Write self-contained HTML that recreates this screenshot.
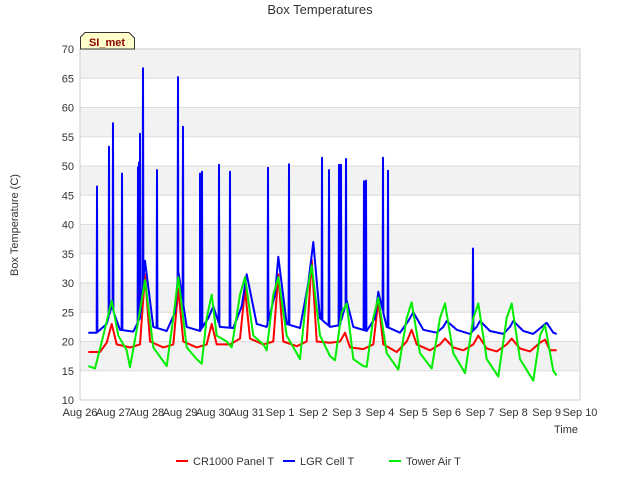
<!DOCTYPE html>
<html><head><meta charset="utf-8"><style>
body{margin:0;background:#fff;font-family:"Liberation Sans",sans-serif}
svg text{font-family:"Liberation Sans",sans-serif}
</style></head><body>
<svg id="chart" width="640" height="480" viewBox="0 0 640 480">
<g id="bands"></g><g id="grid"></g>
<rect x="80" y="49" width="500" height="351" fill="none" stroke="#cccccc"/>
<g id="series"></g><g id="axes"></g>
<text x="320" y="14" text-anchor="middle" font-size="13" fill="#333">Box Temperatures</text>
<text transform="translate(18,225) rotate(-90)" text-anchor="middle" font-size="11" fill="#333">Box Temperature (C)</text>
<text x="578" y="433" text-anchor="end" font-size="11" fill="#333">Time</text>
<g>
<path d="M80.5,49 L80.5,37 L85,32.5 L129,32.5 L134.5,38 L134.5,49 Z" fill="#ffffcc" stroke="#333" stroke-width="1"/>
<text x="107" y="46" text-anchor="middle" font-size="11" font-weight="bold" fill="#8b0000">SI_met</text>
</g>
<g id="legend"></g>
</svg>
<script>
const yTicks=[10,15,20,25,30,35,40,45,50,55,60,65,70];
const xTickLabels=["Aug 26","Aug 27","Aug 28","Aug 29","Aug 30","Aug 31","Sep 1","Sep 2","Sep 3","Sep 4","Sep 5","Sep 6","Sep 7","Sep 8","Sep 9","Sep 10"];
const seriesNames=["CR1000 Panel T","LGR Cell T","Tower Air T"];
const redData=[[0.25,18.2],[0.6,18.2],[0.8,19.8],[0.95,23],[1.1,19.5],[1.5,19],[1.8,19.5],[1.95,31.5],[2.1,20],[2.5,19],[2.8,19.5],[2.95,29],[3.1,20],[3.5,19],[3.8,19.5],[3.95,23],[4.1,19.5],[4.5,19.5],[4.8,20.5],[4.95,29],[5.1,20.5],[5.5,19.5],[5.8,20],[5.95,31.5],[6.1,20],[6.5,19.2],[6.8,20],[6.95,34],[7.1,20],[7.5,19.8],[7.8,20],[7.95,21.5],[8.1,19],[8.5,18.7],[8.8,19.5],[8.95,27],[9.1,19.5],[9.5,18.2],[9.8,20],[9.95,22],[10.1,19.5],[10.5,18.5],[10.8,19.5],[10.95,20.5],[11.2,19],[11.5,18.5],[11.8,19.5],[11.95,21],[12.2,18.8],[12.5,18.3],[12.8,19.5],[12.95,20.5],[13.2,18.8],[13.5,18.3],[13.8,19.8],[13.95,20.3],[14.1,18.5],[14.3,18.5]];
const greenData=[[0.25,15.8],[0.45,15.4],[0.7,21],[0.95,27],[1.15,21],[1.4,18.5],[1.5,15.6],[1.7,22],[1.95,30.5],[2.2,19],[2.45,17],[2.6,15.8],[2.8,24],[2.95,31],[3.2,19],[3.5,17],[3.65,16.2],[3.8,24],[3.95,28],[4.1,21],[4.4,20],[4.55,19],[4.8,28],[4.95,31],[5.2,21],[5.5,19.5],[5.6,18.5],[5.8,28],[5.95,31],[6.2,21],[6.5,18],[6.6,17],[6.8,28],[6.95,33],[7.2,21],[7.5,17.5],[7.65,16.8],[7.85,25],[8,26.5],[8.2,17],[8.5,15.8],[8.6,15.7],[8.8,24],[8.95,27.5],[9.2,18],[9.55,15.2],[9.8,24],[9.95,26.7],[10.2,18],[10.55,15.4],[10.8,24],[10.95,26.5],[11.2,18],[11.55,14.6],[11.8,24],[11.95,26.5],[12.2,17],[12.55,14],[12.8,24],[12.95,26.5],[13.2,17],[13.6,13.3],[13.8,21],[13.95,22.8],[14.2,15],[14.3,14.2]];
const blueData=[[0.25,21.5],[0.5,21.5],[0.8,23],[0.95,26],[1.2,22],[1.6,21.7],[1.8,24],[1.95,33.8],[2.2,22.5],[2.6,21.8],[2.85,25],[2.95,32],[3.2,22.5],[3.6,21.8],[3.85,24],[4.0,26],[4.2,22.5],[4.6,22.3],[4.85,26],[5.0,31.5],[5.3,23],[5.6,22.5],[5.85,28],[5.95,34.5],[6.2,23],[6.6,22.3],[6.85,30],[7.0,37],[7.2,24],[7.5,22.5],[7.8,22.8],[8,27],[8.2,22.5],[8.6,21.8],[8.85,24],[8.95,28.5],[9.2,22.5],[9.6,21.5],[9.85,23.5],[10.0,25],[10.3,22],[10.7,21.5],[10.9,22.5],[11.0,23.5],[11.3,22],[11.7,21.3],[11.9,22.5],[12.0,23.5],[12.3,21.8],[12.7,21.3],[12.9,22.5],[13.0,23.5],[13.3,21.8],[13.6,21.3],[13.85,22.5],[14.0,23.2],[14.2,21.5],[14.3,21.3]];
const blueSpikes=[[0.51,46.5],[0.87,53.3],[0.99,57.3],[1.26,48.7],[1.74,49.8],[1.77,50.6],[1.80,55.5],[1.89,66.7],[2.31,49.3],[2.94,65.2],[3.09,56.7],[3.60,48.7],[3.66,49],[4.17,50.2],[4.50,49],[5.64,49.7],[6.27,50.3],[7.26,51.4],[7.47,49.3],[7.77,50.2],[7.83,50.2],[7.98,51.2],[8.52,47.4],[8.58,47.5],[9.09,51.4],[9.24,49.2],[11.79,35.9]];
const NS="http://www.w3.org/2000/svg";
const X0=80,X1=580,Y0=400,Y1=49;
function xs(t){return X0+(X1-X0)*t/15;}
function ys(v){return Y0-(Y0-Y1)*(v-10)/60;}
function mk(tag,attrs,parent){const e=document.createElementNS(NS,tag);for(const k in attrs)e.setAttribute(k,attrs[k]);parent.appendChild(e);return e;}
const bands=document.getElementById('bands'),grid=document.getElementById('grid'),axes=document.getElementById('axes');
for(let i=0;i<yTicks.length-1;i++){
  if(i%2===1){const r=mk('rect',{x:X0,y:ys(yTicks[i+1]),width:X1-X0,height:ys(yTicks[i])-ys(yTicks[i+1]),fill:'#f2f2f2'},bands);
  
  }
}
yTicks.forEach(v=>{
  const l=mk('line',{x1:X0,x2:X1,y1:ys(v),y2:ys(v),stroke:'#dcdcdc'},grid);
  
  
  const t=mk('text',{x:X0-6,y:ys(v)+4,'text-anchor':'end','font-size':11,fill:'#333'},axes);t.textContent=v;
  
  
});
xTickLabels.forEach((s,i)=>{
  const t=mk('text',{x:xs(i),y:416,'text-anchor':'middle','font-size':11,fill:'#333'},axes);t.textContent=s;
  
  
});
function interp(d,t){for(let i=1;i<d.length;i++){if(d[i][0]>=t){const a=d[i-1],b=d[i];return a[1]+(b[1]-a[1])*(t-a[0])/(b[0]-a[0]);}}return d[d.length-1][1];}
let blueAll=blueData.slice();
blueSpikes.forEach(s=>{const w=0.012;blueAll.push([s[0]-w,interp(blueData,s[0]-w)],[s[0],s[1]],[s[0]+w,interp(blueData,s[0]+w)]);});
blueAll.sort((a,b)=>a[0]-b[0]);
const sg=document.getElementById('series');
function line(d,color,name){const p=mk('polyline',{points:d.map(q=>xs(q[0]).toFixed(1)+','+ys(q[1]).toFixed(1)).join(' '),fill:'none',stroke:color,'stroke-width':2,'stroke-linejoin':'round'},sg);
  
  }
line(redData,'#ff0000','cr1000-panel-t-line');
line(blueAll,'#0000ff','lgr-cell-t-line');
line(greenData,'#00ee00','tower-air-t-line');
const lg=document.getElementById('legend');
const colors=['#ff0000','#0000ff','#00ee00'];const lx=[176,283,389];
seriesNames.forEach((n,i)=>{
  const l=mk('line',{x1:lx[i],x2:lx[i]+12,y1:461,y2:461,stroke:colors[i],'stroke-width':2},lg);
  
  
  const t=mk('text',{x:lx[i]+17,y:465,'font-size':11,fill:'#333'},lg);t.textContent=n;
  
  
});
</script>
</body></html>
